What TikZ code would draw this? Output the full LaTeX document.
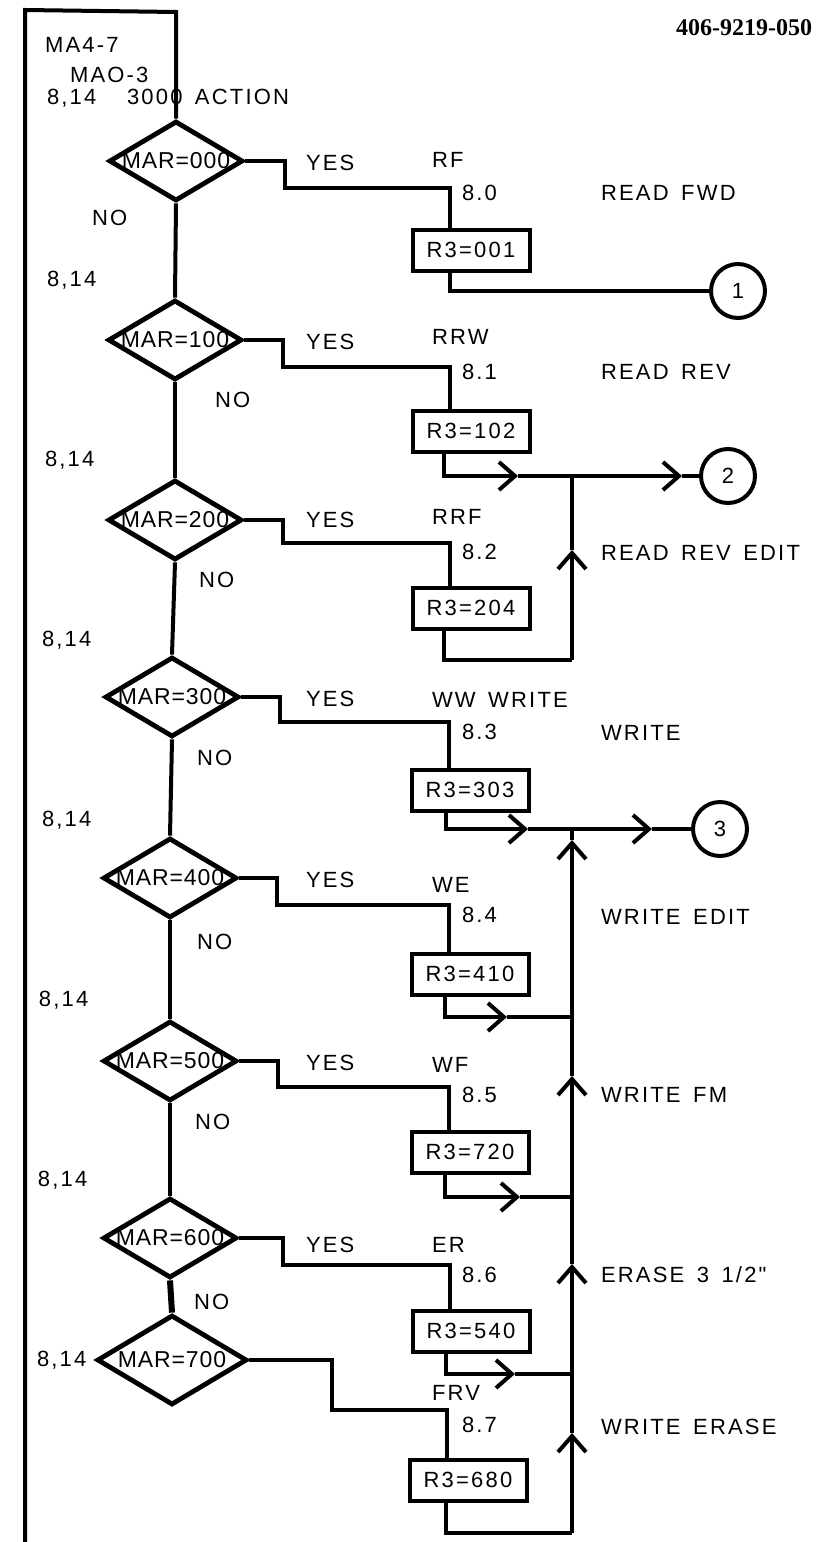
\documentclass[tikz,border=0pt]{standalone}
\usepackage{fontspec}
\setmainfont{Liberation Sans}
\newfontfamily\plotfont[LetterSpace=10,WordSpace=1.5]{Liberation Sans}
\newfontfamily\condfont[LetterSpace=4]{Liberation Sans}
\newfontfamily\docfont{Liberation Serif}
\usetikzlibrary{shapes.geometric,arrows.meta,calc}

\begin{document}
\begin{tikzpicture}[x=0.5pt, y=-0.5pt, line width=2pt,
  font=\plotfont\fontsize{11}{13}\selectfont,
  decision/.style={diamond, draw, line width=2.4pt, inner sep=0pt,
                   minimum width=67pt, minimum height=40pt},
  cond/.style={font=\condfont\fontsize{11.5}{13}\selectfont, inner sep=0pt},
  regbox/.style={draw, line width=2pt, inner sep=0pt,
                 minimum width=58.5pt, minimum height=20.5pt},
  conn/.style={circle, draw, line width=2pt, inner sep=0pt, minimum size=27pt},
  txt/.style={anchor=west, inner sep=0pt},
  flow/.style={-{Straight Barb[length=8pt,width=14pt]}}]

  \useasboundingbox (0,0) rectangle (817,1542);

  % ---------- title block ----------
  \node[anchor=east, inner sep=0pt, font=\docfont\bfseries\fontsize{12}{14}\selectfont]
       (docno) at (814,28) {406-9219-050};
  \node[txt] (ma47) at (43,45) {MA4-7};
  \node[txt] (ma03) at (68,75) {MAO-3};
  \node[txt] (sub0) at (45,98) {8,14};
  \node[txt] (entry) at (125,97) {3000 ACTION};

  % ---------- decisions on MAR ----------
  \foreach \n/\x/\y/\t in {0/176/161/000, 1/175/340/100, 2/175/520/200,
                           3/172/697/300, 4/170/878/400, 5/170/1061/500,
                           6/170/1238/600}
    \node[decision, label={[cond]center:MAR=\t}] (d\n) at (\x,\y) {};
  \node[decision, minimum width=75pt, minimum height=45pt,
        label={[cond]center:MAR=700}] (d7) at (172,1360) {};

  % ---------- R3 settings ----------
  \foreach \n/\x/\y/\t in {0/471/250/001, 1/471/431/102, 2/471/608/204,
                           3/470/790/303, 4/470/974/410, 5/470/1152/720,
                           6/471/1331/540, 7/468/1480/680}
    \node[regbox] (b\n) at (\x,\y) {R3=\t};

  % ---------- off-page connectors ----------
  \node[conn] (c1) at (738,291) {1};
  \node[conn] (c2) at (728,476) {2};
  \node[conn] (c3) at (720,829) {3};

  % ---------- entry and frame ----------
  \coordinate (fl) at (25,1542);
  \coordinate (tl) at (25,10);
  \coordinate (tr) at (176,12);
  \draw (fl) -- (tl) -- (tr) -- (d0.north);

  % ---------- NO chain ----------
  \foreach \a/\b in {0/1,1/2,2/3,3/4,4/5,5/6}
    \draw (d\a.south) -- (d\b.north);
  \draw[line width=3pt] (d6.south) -- (d7.north);

  % ---------- YES branches ----------
  \foreach \n/\sx/\sy in {0/285/188, 1/283/367, 2/283/543, 3/280/722,
                          4/277/905, 5/278/1087, 6/283/1265, 7/332/1410}
    \draw (d\n.east) -| (\sx,\sy) -| ($(b\n.north)+(-21,0)$);

  % ---------- outputs ----------
  \coordinate (a1) at (518,476);
  \coordinate (j1) at (572,476);
  \coordinate (r1) at (682,476);
  \coordinate (k2) at (572,660);
  \coordinate (u2) at (572,550);
  \coordinate (a3) at (528,829);
  \coordinate (j3) at (572,829);
  \coordinate (r3) at (652,829);
  \coordinate (u3) at (572,840);
  \coordinate (k7) at (572,1533);
  \coordinate (u7) at (572,1433);

  \draw ($(b0.south)+(-21,0)$) |- (c1);

  \draw[flow] ($(b1.south)+(-27,0)$) |- (a1);
  \draw (a1) -- (j1);
  \draw[flow] (j1) -- (r1);
  \draw (r1) -- (c2);

  \draw ($(b2.south)+(-27,0)$) |- (k2);
  \draw[flow] (k2) -- (u2);
  \draw (u2) -- (j1);

  \draw[flow] ($(b3.south)+(-24,0)$) |- (a3);
  \draw (a3) -- (j3);
  \draw[flow] (j3) -- (r3);
  \draw (r3) -- (c3);

  \foreach \n/\ax/\y/\uy in {4/507/1017/1076, 5/520/1197/1264, 6/515/1374/1433}{
    \coordinate (a\n) at (\ax,\y);
    \coordinate (j\n) at (572,\y);
    \coordinate (u\n) at (572,\uy);
    \draw[flow] ($(b\n.south)+(-25,0)$) |- (a\n);
    \draw (a\n) -- (j\n);
  }
  \draw[flow] (j4) -- (u3);
  \draw (u3) -- (j3);
  \draw[flow] (j5) -- (u4);
  \draw (u4) -- (j4);
  \draw[flow] (j6) -- (u5);
  \draw (u5) -- (j5);

  \draw ($(b7.south)+(-22,0)$) |- (k7);
  \draw[flow] (k7) -- (u6);
  \draw (u6) -- (j6);

  % ---------- labels ----------
  \foreach \n/\y in {0/163, 1/342, 2/520, 3/699, 4/880, 5/1063, 6/1245}
    \node[txt] (yes\n) at (304,\y) {YES};
  \foreach \n/\x/\y in {0/90/218, 1/213/400, 2/197/580, 3/195/758,
                        4/195/942, 5/193/1122, 6/192/1302}
    \node[txt] (no\n) at (\x,\y) {NO};
  \foreach \n/\x/\y in {1/45/280, 2/43/460, 3/40/640, 4/40/820,
                        5/37/1000, 6/36/1180, 7/35/1360}
    \node[txt] (sub\n) at (\x,\y) {8,14};
  \foreach \n/\y/\t in {0/160/RF, 1/337/RRW, 2/517/RRF, 3/700/WW WRITE,
                        4/885/WE, 5/1065/WF, 6/1245/ER, 7/1393/FRV}
    \node[txt] (tag\n) at (430,\y) {\t};
  \foreach \n/\y in {0/193, 1/372, 2/552, 3/732, 4/915, 5/1095, 6/1275, 7/1425}
    \node[txt] (sec\n) at (460,\y) {8.\n};
  \foreach \n/\y/\t in {0/193/READ FWD, 1/372/READ REV, 2/553/READ REV EDIT,
                        3/733/WRITE, 4/917/WRITE EDIT, 5/1095/WRITE FM,
                        6/1275/{ERASE 3 1/2"}, 7/1427/WRITE ERASE}
    \node[txt] (op\n) at (599,\y) {\t};

\end{tikzpicture}
\end{document}
